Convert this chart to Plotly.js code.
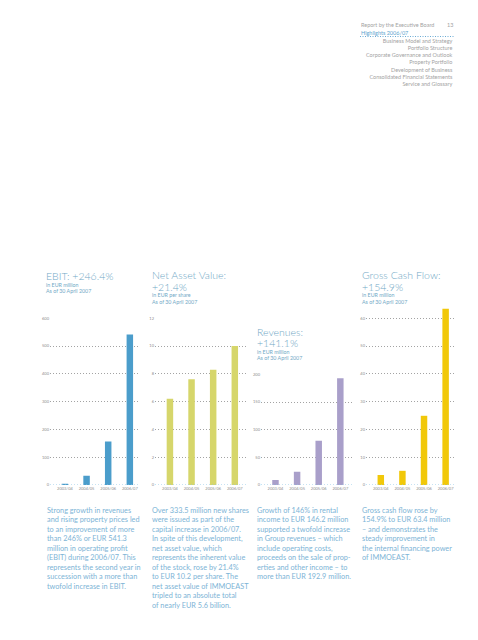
<!DOCTYPE html>
<html>
<head>
<meta charset="utf-8">
<script src="https://cdn.plot.ly/plotly-3.0.1.min.js"></script>
<style>html,body{margin:0;padding:0;background:#fff;}#chart{width:478px;height:640px;}</style>
</head>
<body>
<div id="chart"></div>
<script>
// ---- data ----
const years = ['2003/04', '2004/05', '2005/06', '2006/07'];
const ebit = [4.5, 33, 156.3, 541.3];            // EUR million
const netAssetValue = [6.2, 7.6, 8.3, 10.0];       // EUR per share
const revenues = [9, 24, 80, 192.9];               // EUR million
const grossCashFlow = [3.6, 5.1, 24.9, 63.4];      // EUR million
const ebitTicks = [0, 100, 200, 300, 400, 500, 600];
const navTicks = [0, 2, 4, 6, 8, 10, 12];
const revenueTicks = [0, 50, 100, 150, 200];
const gcfTicks = [0, 10, 20, 30, 40, 50, 60];

const W = 478, H = 640;
const px = x => x / W;
const py = y => (H - y) / H;
const FONT = 'Lato, "Open Sans", sans-serif';
const TITLE_COL = '#72a9c6';
const BODY_COL = '#7db4d6';
const TICK_COL = '#8c8c8c';

const panels = [
  {vals: ebit, ticks: ebitTicks, yr: [0, 600], xd: [50, 140], yd: [318.2, 485], xr: [-0.69, 3.47], color: '#4b9dcb'},
  {vals: netAssetValue, ticks: navTicks, yr: [0, 12], xd: [155, 248], yd: [318.2, 485], xr: [-0.69, 3.61], color: '#d6d66b'},
  {vals: revenues, ticks: revenueTicks, yr: [0, 200], xd: [261, 352], yd: [374.4, 485], xr: [-0.67, 3.54], color: '#a99fca'},
  {vals: grossCashFlow, ticks: gcfTicks, yr: [0, 64], xd: [366, 456], yd: [307.1, 485], xr: [-0.685, 3.48], color: '#f1c80a'}
];

const data = [];
const layout = {
  width: W, height: H,
  margin: {l: 0, r: 0, t: 0, b: 0},
  paper_bgcolor: '#fff', plot_bgcolor: 'rgba(0,0,0,0)',
  showlegend: false, bargap: 0.7,
  font: {family: FONT},
  shapes: [], annotations: []
};

panels.forEach((p, i) => {
  const n = i === 0 ? '' : String(i + 1);
  data.push({
    type: 'bar', x: years, y: p.vals, xaxis: 'x' + n, yaxis: 'y' + n,
    marker: {color: p.color, line: {width: 0}}, hoverinfo: 'x+y'
  });
  layout['xaxis' + n] = {
    domain: [px(p.xd[0]), px(p.xd[1])], anchor: 'y' + n, type: 'category',
    range: p.xr, showgrid: false, zeroline: false, showline: false, ticks: '',
    tickfont: {size: 4, color: TICK_COL, family: FONT}, fixedrange: true
  };
  layout['yaxis' + n] = {
    domain: [py(p.yd[1]), py(p.yd[0])], anchor: 'x' + n,
    range: p.yr, tickvals: p.ticks, ticktext: p.ticks.map(String),
    showgrid: true, gridcolor: '#a3a3a3', gridwidth: 1, griddash: '1px,2px',
    zeroline: false, showline: false, ticks: '',
    tickfont: {size: 4, color: TICK_COL, family: FONT}, fixedrange: true
  };
  layout.shapes.push({
    type: 'line', xref: 'x' + n + ' domain', yref: 'y' + n, x0: 0, x1: 1, y0: 0, y1: 0,
    line: {color: '#8cc4e4', width: 1, dash: '1px,2px'}, layer: 'above'
  });
});

function ann(text, x, y, size, color, xanchor, yanchor, align, weight) {
  layout.annotations.push({
    text: text, xref: 'paper', yref: 'paper', x: px(x), y: py(y),
    xanchor: xanchor || 'left', yanchor: yanchor || 'middle', align: align || 'left',
    showarrow: false, font: {family: FONT, size: size, color: color, weight: weight || 400}, borderpad: 0
  });
}

const TS = 10.5, SS = 5.3, TW = 300;
// chart titles
ann('EBIT: +246.4%', 45, 275.5, TS, TITLE_COL, 'left', 'middle', 'left', TW);
ann('in EUR million', 45, 284.5, SS, TITLE_COL);
ann('As of 30 April 2007', 45, 291, SS, TITLE_COL);

ann('Net Asset Value:', 151, 275, TS, TITLE_COL, 'left', 'middle', 'left', TW);
ann('+21.4%', 151, 286.5, TS, TITLE_COL, 'left', 'middle', 'left', TW);
ann('in EUR per share', 151, 295, SS, TITLE_COL);
ann('As of 30 April 2007', 151, 301.5, SS, TITLE_COL);

ann('Revenues:', 256, 331.5, TS, TITLE_COL, 'left', 'middle', 'left', TW);
ann('+141.1%', 256, 343, TS, TITLE_COL, 'left', 'middle', 'left', TW);
ann('in EUR million', 256, 351.5, SS, TITLE_COL);
ann('As of 30 April 2007', 256, 358, SS, TITLE_COL);

ann('Gross Cash Flow:', 361, 275, TS, TITLE_COL, 'left', 'middle', 'left', TW);
ann('+154.9%', 361, 286.5, TS, TITLE_COL, 'left', 'middle', 'left', TW);
ann('in EUR million', 361, 295, SS, TITLE_COL);
ann('As of 30 April 2007', 361, 301.5, SS, TITLE_COL);

// body paragraphs
const p1 = ['Strong growth in revenues', 'and rising property prices led', 'to an improvement of more',
  'than 246% or EUR 541.3', 'million in operating profit', '(EBIT) during 2006/07. This',
  'represents the second year in', 'succession with a more than', 'twofold increase in EBIT.'];
const p2 = ['Over 333.5 million new shares', 'were issued as part of the', 'capital increase in 2006/07.',
  'In spite of this development,', 'net asset value, which', 'represents the inherent value',
  'of the stock, rose by 21.4%', 'to EUR 10.2 per share. The', 'net asset value of IMMOEAST',
  'tripled to an absolute total', 'of nearly EUR 5.6 billion.'];
const p3 = ['Growth of 146% in rental', 'income to EUR 146.2 million', 'supported a twofold increase',
  'in Group revenues – which', 'include operating costs,', 'proceeds on the sale of prop-',
  'erties and other income – to', 'more than EUR 192.9 million.'];
const p4 = ['Gross cash flow rose by', '154.9% to EUR 63.4 million', '– and demonstrates the',
  'steady improvement in', 'the internal financing power', 'of IMMOEAST.'];
[[p1, 46], [p2, 151], [p3, 256], [p4, 361]].forEach(([lines, x]) => {
  ann(lines.join('<br>'), x, 505, 7.3, BODY_COL, 'left', 'top', 'left');
});

// navigation block
const NAV_COL = '#a3a3a3';
ann('Report by the Executive Board', 360, 25, 5.5, NAV_COL);
ann('13', 454, 25, 5.5, NAV_COL, 'right');
ann('Highlights 2006/07', 360, 32.5, 5.5, '#5ea5cf');
ann(['Business Model and Strategy', 'Portfolio Structure', 'Corporate Governance and Outlook',
  'Property Portfolio', 'Development of Business', 'Consolidated Financial Statements',
  'Service and Glossary'].join('<br>'), 454, 62.7, 5.5, NAV_COL, 'right', 'middle', 'right');
layout.shapes.push({type: 'line', xref: 'paper', yref: 'paper', x0: px(360), x1: px(454),
  y0: py(36.5), y1: py(36.5), line: {color: '#6aaad3', width: 1, dash: '1px,1.5px'}});

Plotly.newPlot('chart', data, layout, {staticPlot: true, displayModeBar: false});
</script>
</body>
</html>
